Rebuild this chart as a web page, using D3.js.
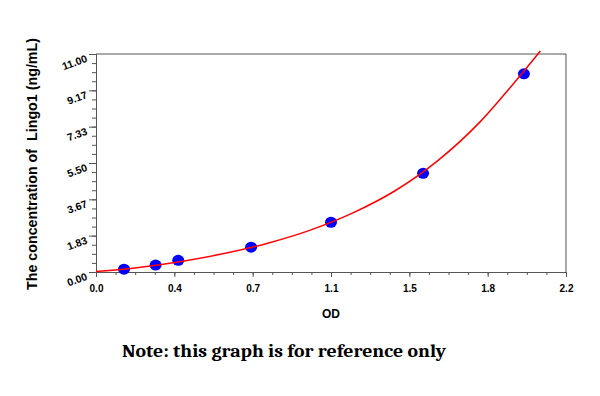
<!DOCTYPE html>
<html>
<head>
<meta charset="utf-8">
<script src="https://cdn.jsdelivr.net/npm/d3@7"></script>
<style>
  html, body { margin: 0; padding: 0; background: #ffffff; }
  svg { display: block; }
</style>
</head>
<body>
<svg id="chart" width="600" height="396"></svg>
<script>
// ---- data ----
const pointOD   = [0.131, 0.279, 0.385, 0.726, 1.100, 1.531, 2.003];
const pointConc = [0.14, 0.35, 0.59, 1.25, 2.51, 4.98, 10.00];

// fitted standard curve as drawn in the reference, sampled along its path
const curveOD   = [0.00, 0.20, 0.40, 0.60, 0.80, 1.00, 1.20, 1.40, 1.60, 1.80, 1.95, 2.08];
const curveConc = [0.02, 0.23, 0.53, 0.93, 1.44, 2.10, 2.97, 4.10, 5.62, 7.60, 9.45, 11.15];

const xTickValues = [0, 2.2/6, 4.4/6, 1.1, 8.8/6, 11/6, 2.2];
const xTickLabels = ["0.0", "0.4", "0.7", "1.1", "1.5", "1.8", "2.2"];
const yTickValues = [0, 11/6, 22/6, 5.5, 44/6, 55/6, 11];
const yTickLabels = ["0.00", "1.83", "3.67", "5.50", "7.33", "9.17", "11.00"];

const xLabel = "OD";
const yLabel = "The concentration of  Lingo1 (ng/mL)";
const noteText = "Note: this graph is for reference only";

// ---- layout ----
const svg = d3.select("#chart");
const mLeft = 96, mRight = 566, mTop = 54, mBottom = 272;

const x = d3.scaleLinear().domain([0, 2.2]).range([mLeft, mRight]);
const y = d3.scaleLinear().domain([0, 11]).range([mBottom, mTop]);

const axisColor = "#555555";
const fontSans = "Arial, 'Liberation Sans', Helvetica, sans-serif";

// minor ticks (4 subdivisions between majors)
const xMinor = d3.range(0, 25).map(i => i * 2.2 / 24);
const yMinor = d3.range(0, 25).map(i => i * 11 / 24);

// frame top and right
svg.append("line").attr("x1", mLeft).attr("x2", mRight).attr("y1", mTop).attr("y2", mTop)
  .attr("stroke", axisColor).attr("stroke-width", 1);
svg.append("line").attr("x1", mRight).attr("x2", mRight).attr("y1", mTop).attr("y2", mBottom)
  .attr("stroke", axisColor).attr("stroke-width", 1);

// x axis
const xAxisG = svg.append("g").attr("transform", `translate(0,${mBottom})`);
xAxisG.call(d3.axisBottom(x).tickValues(xMinor).tickSize(3).tickFormat(""));
xAxisG.append("g").call(d3.axisBottom(x).tickValues(xTickValues).tickSize(5)
    .tickFormat((d, i) => xTickLabels[i]));
xAxisG.selectAll("path.domain").attr("stroke", axisColor);
xAxisG.selectAll("line").attr("stroke", axisColor);
xAxisG.selectAll("text")
  .attr("font-family", fontSans).attr("font-size", "10px").attr("font-weight", "bold")
  .attr("fill", "#000").attr("y", 19.5).attr("dy", 0);

// y axis
const yAxisG = svg.append("g").attr("transform", `translate(${mLeft},0)`);
yAxisG.call(d3.axisLeft(y).tickValues(yMinor).tickSize(4).tickFormat(""));
yAxisG.append("g").call(d3.axisLeft(y).tickValues(yTickValues).tickSize(7)
    .tickFormat((d, i) => yTickLabels[i]));
yAxisG.selectAll("path.domain").attr("stroke", axisColor);
yAxisG.selectAll("line").attr("stroke", axisColor);
yAxisG.selectAll("g.tick text")
  .attr("font-family", fontSans).attr("font-size", "10.5px").attr("font-weight", "bold")
  .attr("fill", "#000")
  .attr("x", 0).attr("dy", 0)
  .attr("transform", "translate(-8,7) rotate(-20)")
  .attr("text-anchor", "end");

// points (under the curve)
svg.append("g").selectAll("ellipse")
  .data(pointOD.map((d, i) => ({od: d, c: pointConc[i]})))
  .join("ellipse")
  .attr("cx", d => x(d.od)).attr("cy", d => y(d.c))
  .attr("rx", 6).attr("ry", 5.5)
  .attr("fill", "#0000ff");

// fitted curve
const line = d3.line().x(d => x(d.od)).y(d => y(d.c)).curve(d3.curveMonotoneX);
svg.append("path")
  .datum(curveOD.map((d, i) => ({od: d, c: curveConc[i]})))
  .attr("d", line)
  .attr("fill", "none").attr("stroke", "#ff0000").attr("stroke-width", 1.5);

// axis titles
svg.append("text").attr("x", x(1.1)).attr("y", 318)
  .attr("text-anchor", "middle")
  .attr("font-family", fontSans).attr("font-size", "12px").attr("font-weight", "bold")
  .text(xLabel);

svg.append("text")
  .attr("transform", "translate(37,164) rotate(-90)")
  .attr("text-anchor", "middle")
  .attr("font-family", fontSans).attr("font-size", "14px").attr("font-weight", "bold")
  .attr("textLength", 252).attr("lengthAdjust", "spacingAndGlyphs")
  .style("white-space", "pre")
  .text(yLabel);

// note
svg.append("text").attr("x", 122).attr("y", 357)
  .attr("font-family", "Cambria, 'Liberation Serif', 'DejaVu Serif', serif")
  .attr("font-size", "18px").attr("font-weight", "bold")
  .attr("fill", "#000")
  .attr("textLength", 324).attr("lengthAdjust", "spacingAndGlyphs")
  .text(noteText);
</script>
</body>
</html>
